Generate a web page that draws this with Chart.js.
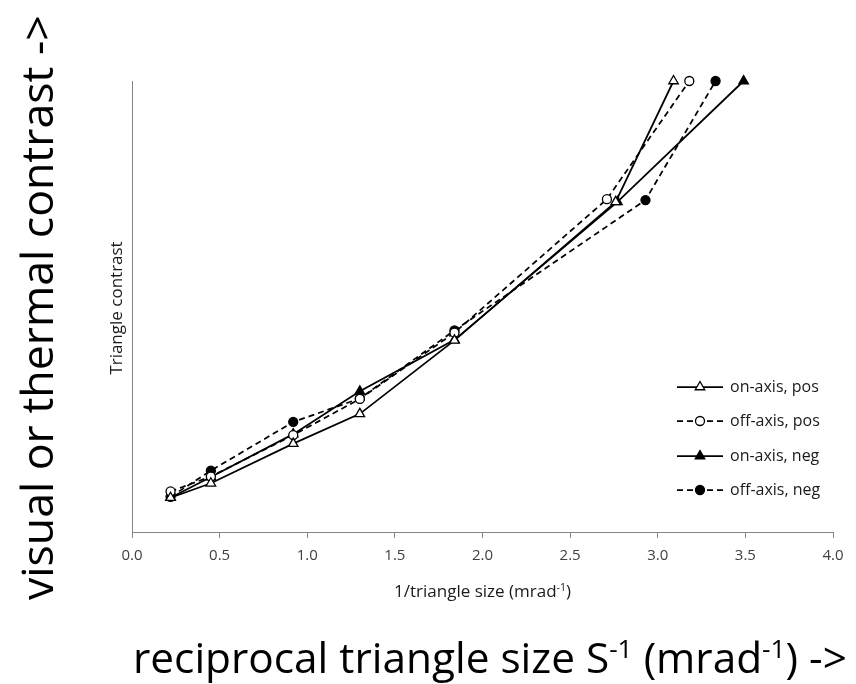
<!DOCTYPE html>
<html>
<head>
<meta charset="utf-8">
<script src="https://cdn.jsdelivr.net/npm/chart.js@4/dist/chart.umd.min.js"></script>
<style>
html,body{margin:0;padding:0;background:#fff;}
#wrap{width:856px;height:684px;position:relative;}
</style>
</head>
<body>
<div id="wrap"><canvas id="c" width="856" height="684"></canvas></div>
<script>
// ---- data ----
const seriesNames = ['on-axis, pos', 'off-axis, pos', 'on-axis, neg', 'off-axis, neg'];
const onPosX  = [0.22, 0.45, 0.92, 1.30, 1.84, 2.76, 3.09];
const onPosY  = [7.6, 10.8, 19.6, 26.2, 42.5, 73.2, 100];
const offPosX = [0.22, 0.45, 0.92, 1.30, 1.84, 2.71, 3.18];
const offPosY = [9.0, 12.3, 21.5, 29.5, 44.2, 73.8, 100];
const onNegX  = [0.22, 0.45, 0.92, 1.30, 1.84, 2.77, 3.49];
const onNegY  = [7.6, 12.2, 21.7, 31.2, 42.6, 73.2, 100];
const offNegX = [0.22, 0.45, 0.92, 1.30, 1.84, 2.93, 3.33];
const offNegY = [7.8, 13.6, 24.4, 29.6, 44.7, 73.6, 100];
const xTickLabels = ['0.0','0.5','1.0','1.5','2.0','2.5','3.0','3.5','4.0'];
const xTitleParts = [{t:'1/triangle size (mrad'},{t:'-1',sup:true},{t:')'}];
const yTitle = 'Triangle contrast';
const bigXParts = [{t:'reciprocal triangle size S'},{t:'-1',sup:true},{t:' (mrad'},{t:'-1',sup:true},{t:') ->'}];
const bigY = 'visual or thermal contrast ->';

const FONT = '"Open Sans", "DejaVu Sans", sans-serif';

function pts(xs, ys){ return xs.map((x,i)=>({x:x, y:ys[i]})); }

const styles = [
  {dash:[], pointStyle:'triangle', fill:'#ffffff'},
  {dash:[6,4], pointStyle:'circle', fill:'#ffffff'},
  {dash:[], pointStyle:'triangle', fill:'#000000'},
  {dash:[6,4], pointStyle:'circle', fill:'#000000'}
];
const allData = [pts(onPosX,onPosY), pts(offPosX,offPosY), pts(onNegX,onNegY), pts(offNegX,offNegY)];

const datasets = allData.map((d,i)=>({
  label: seriesNames[i],
  data: d,
  showLine: true,
  borderColor: '#000000',
  borderWidth: 1.75,
  borderDash: styles[i].dash,
  pointStyle: styles[i].pointStyle,
  pointRadius: styles[i].pointStyle==='triangle' ? 5.5 : 4.5,
  pointBackgroundColor: styles[i].fill,
  pointBorderColor: '#000000',
  pointBorderWidth: 1.3,
  tension: 0,
  clip: false
}));

function measureParts(ctx, parts, size){
  let w = 0;
  for (const p of parts){
    ctx.font = (p.sup ? size*0.62 : size) + 'px ' + FONT;
    w += ctx.measureText(p.t).width;
  }
  return w;
}
function drawParts(ctx, parts, size, x, y){
  let cx = x;
  for (const p of parts){
    ctx.font = (p.sup ? size*0.62 : size) + 'px ' + FONT;
    ctx.fillText(p.t, cx, p.sup ? y - size*0.36 : y);
    cx += ctx.measureText(p.t).width;
  }
}

const overlay = {
  id: 'overlay',
  afterDraw(chart){
    const ctx = chart.ctx;
    ctx.save();
    ctx.fillStyle = '#000000';
    ctx.textAlign = 'left';
    ctx.textBaseline = 'alphabetic';
    // x axis title
    const xs = chart.scales.x;
    const midX = (xs.left + xs.right)/2;
    const w1 = measureParts(ctx, xTitleParts, 17);
    ctx.fillStyle = '#1a1a1a';
    drawParts(ctx, xTitleParts, 17, midX - w1/2, 597);
    // y axis title
    ctx.save();
    ctx.translate(117, 308);
    ctx.rotate(-Math.PI/2);
    ctx.font = '17px ' + FONT;
    ctx.textAlign = 'center';
    ctx.textBaseline = 'middle';
    ctx.fillText(yTitle, 0, 0);
    ctx.restore();
    // big bottom text, fitted to width
    ctx.fillStyle = '#000000';
    const targetW = 714;
    const base = measureParts(ctx, bigXParts, 100);
    const size = 100 * targetW / base;
    drawParts(ctx, bigXParts, size, 133, 673);
    // big left text
    ctx.font = '100px ' + FONT;
    const bw = ctx.measureText(bigY).width;
    const bsize = 100 * 585 / bw;
    ctx.save();
    ctx.translate(53, 600);
    ctx.rotate(-Math.PI/2);
    ctx.font = bsize + 'px ' + FONT;
    ctx.textAlign = 'left';
    ctx.textBaseline = 'alphabetic';
    ctx.fillText(bigY, 0, 0);
    ctx.restore();
    // legend
    const rows = [387, 421, 456, 490];
    for (let i=0;i<4;i++){
      const y = rows[i];
      ctx.save();
      ctx.strokeStyle = '#000000';
      ctx.lineWidth = 1.75;
      ctx.setLineDash(styles[i].dash);
      ctx.beginPath();
      ctx.moveTo(677, y);
      ctx.lineTo(723, y);
      ctx.stroke();
      ctx.setLineDash([]);
      ctx.fillStyle = styles[i].fill;
      ctx.lineWidth = 1.3;
      ctx.beginPath();
      if (styles[i].pointStyle === 'triangle'){
        const r = 5.5;
        ctx.moveTo(700, y - r);
        ctx.lineTo(700 + r*0.866, y + r*0.5);
        ctx.lineTo(700 - r*0.866, y + r*0.5);
        ctx.closePath();
      } else {
        ctx.arc(700, y, 4.5, 0, Math.PI*2);
      }
      ctx.fill();
      ctx.stroke();
      ctx.restore();
      ctx.fillStyle = '#1a1a1a';
      ctx.font = '16px ' + FONT;
      ctx.textBaseline = 'middle';
      ctx.textAlign = 'left';
      ctx.fillText(seriesNames[i], 730, y);
    }
    ctx.restore();
  }
};

new Chart(document.getElementById('c'), {
  type: 'scatter',
  data: { datasets: datasets },
  options: {
    responsive: false,
    animation: false,
    devicePixelRatio: 1,
    layout: { padding: { left: 132, top: 81, right: 23, bottom: 0 } },
    plugins: { legend: { display: false }, tooltip: { enabled: false } },
    scales: {
      x: {
        type: 'linear',
        min: 0, max: 4,
        afterFit(scale){ scale.height = 684 - 532; },
        afterBuildTicks(scale){ scale.ticks = xTickLabels.map(v=>({value: parseFloat(v)})); },
        ticks: {
          callback: (v, i) => xTickLabels[i],
          font: { family: FONT, size: 15 },
          color: '#404040',
          padding: 9,
          maxRotation: 0,
          autoSkip: false
        },
        grid: { display: true, drawOnChartArea: false, drawTicks: true, tickLength: 6, color: '#868686', lineWidth: 1 },
        border: { display: true, color: '#868686', width: 1 }
      },
      y: {
        type: 'linear',
        min: 0, max: 100,
        afterFit(scale){ scale.width = 0; },
        ticks: { display: false },
        grid: { display: false, drawTicks: false },
        border: { display: true, color: '#868686', width: 1 }
      }
    }
  },
  plugins: [overlay]
});
</script>
</body>
</html>
